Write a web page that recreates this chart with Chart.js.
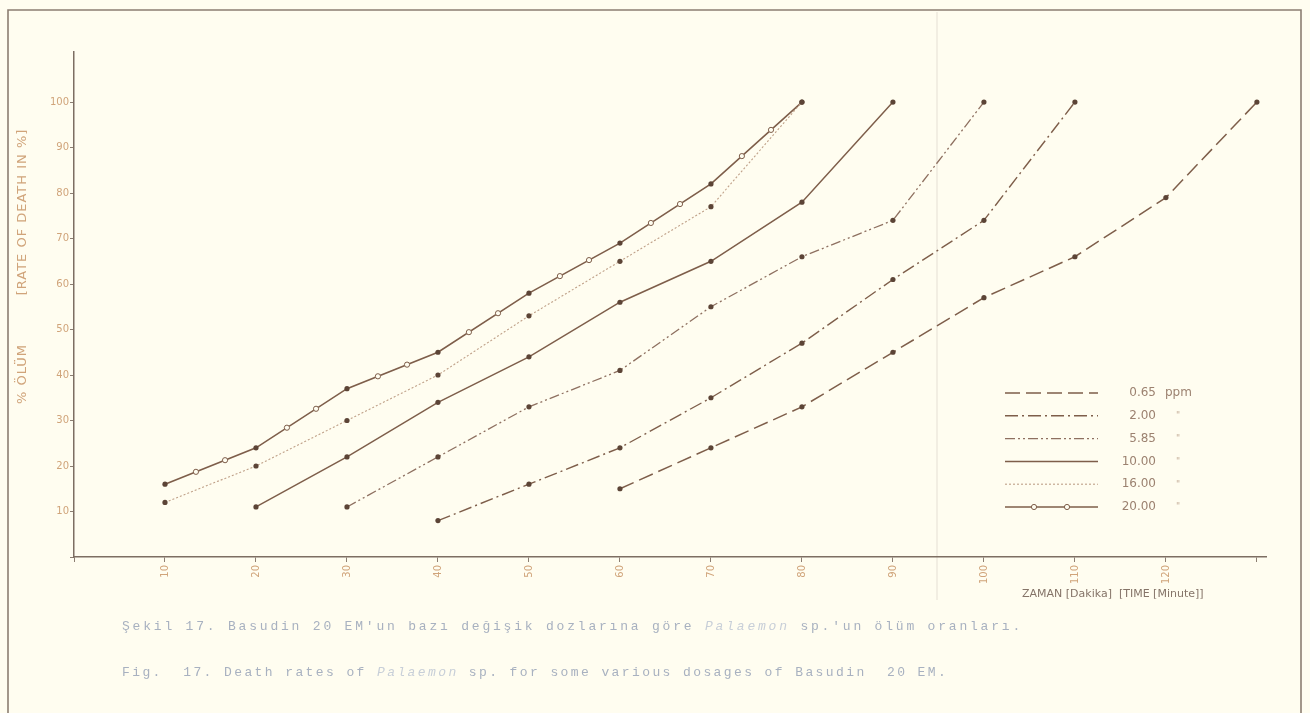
<!DOCTYPE html>
<html>
<head>
<meta charset="utf-8">
<script src="https://cdn.jsdelivr.net/npm/chart.js@4.4.0/dist/chart.umd.min.js"></script>
<style>
  html, body { margin: 0; padding: 0; background: #fffdf0; }
  #wrap { position: relative; width: 1310px; height: 713px; }
</style>
</head>
<body>
<div id="wrap"><canvas id="chart" width="1310" height="713"></canvas></div>
<script>
// ---- data (minutes -> % death) ----
var doseLabels = ['0.65', '2.00', '5.85', '10.00', '16.00', '20.00'];
var doseUnits  = ['ppm', '"', '"', '"', '"', '"'];

var time065  = [60, 70, 80, 90, 100, 110, 120, 130];
var death065 = [15, 24, 33, 45, 57, 66, 79, 100];

var time200  = [40, 50, 60, 70, 80, 90, 100, 110];
var death200 = [8, 16, 24, 35, 47, 61, 74, 100];

var time585  = [30, 40, 50, 60, 70, 80, 90, 100];
var death585 = [11, 22, 33, 41, 55, 66, 74, 100];

var time1000  = [20, 30, 40, 50, 60, 70, 80, 90];
var death1000 = [11, 22, 34, 44, 56, 65, 78, 100];

var time1600  = [10, 20, 30, 40, 50, 60, 70, 80];
var death1600 = [12, 20, 30, 40, 53, 65, 77, 100];

var time2000  = [10, 20, 30, 40, 50, 60, 70, 80];
var death2000 = [16, 24, 37, 45, 58, 69, 82, 100];

var xTicks = [10, 20, 30, 40, 50, 60, 70, 80, 90, 100, 110, 120];
var yTicks = [10, 20, 30, 40, 50, 60, 70, 80, 90, 100];

var INK = '#7e5e4a';
var DOT = '#5c4436';
var PALE = '#d0a47a';

function pts(t, v) { return t.map(function (m, i) { return { x: m, y: v[i] }; }); }

function ds(label, t, v, dash, color, width) {
  return {
    label: label, data: pts(t, v),
    borderColor: color, borderWidth: width, borderDash: dash,
    pointRadius: 2.6, pointBackgroundColor: DOT, pointBorderColor: DOT, pointBorderWidth: 0,
    tension: 0, fill: false
  };
}

// decorations: frame, titles, captions, legend, circle-line style
var decor = {
  id: 'decor',
  beforeDraw: function (chart) {
    var c = chart.ctx;
    c.save();
    c.fillStyle = '#fffdf0';
    c.fillRect(0, 0, chart.width, chart.height);
    c.strokeStyle = '#8c7e72';
    c.lineWidth = 1.6;
    c.beginPath();
    c.moveTo(8, 720); c.lineTo(8, 10); c.lineTo(1301, 10); c.lineTo(1301, 720);
    c.stroke();
    // paper fold
    c.strokeStyle = 'rgba(150,140,130,0.25)';
    c.lineWidth = 1;
    c.beginPath(); c.moveTo(937, 12); c.lineTo(937, 600); c.stroke();
    c.restore();
  },
  afterDatasetsDraw: function (chart) {
    var c = chart.ctx;
    // open circles along the 20.00 ppm line
    var meta = chart.getDatasetMeta(5);
    c.save();
    c.strokeStyle = INK; c.fillStyle = '#fffdf0'; c.lineWidth = 1;
    for (var i = 0; i < meta.data.length - 1; i++) {
      var a = meta.data[i], b = meta.data[i + 1];
      [0.34, 0.66].forEach(function (f) {
        c.beginPath();
        c.arc(a.x + (b.x - a.x) * f, a.y + (b.y - a.y) * f, 2.6, 0, Math.PI * 2);
        c.fill(); c.stroke();
      });
    }
    c.restore();
  },
  afterDraw: function (chart) {
    var c = chart.ctx;
    c.save();
    // y title
    c.fillStyle = PALE;
    c.font = '13px "DejaVu Sans"';
    c.textAlign = 'center'; c.textBaseline = 'middle';
    c.letterSpacing = '1px';
    c.translate(23, 0);
    c.rotate(-Math.PI / 2);
    c.fillText('% ÖLÜM', -374, 0);
    c.fillText('[RATE OF DEATH IN %]', -212, 0);
    c.restore();

    // x title
    c.save();
    c.fillStyle = '#857468';
    c.font = '11px "DejaVu Sans"';
    c.textAlign = 'left'; c.textBaseline = 'middle';
    c.fillText('ZAMAN [Dakika]  [TIME [Minute]]', 1022, 594);
    c.restore();

    // legend
    c.save();
    chart.data.datasets.forEach(function (d, i) {
      var y = 393 + i * 22.8;
      c.strokeStyle = d.borderColor; c.lineWidth = d.borderWidth;
      c.setLineDash(d.borderDash || []);
      c.beginPath(); c.moveTo(1005, y); c.lineTo(1098, y); c.stroke();
      c.setLineDash([]);
      if (i === 5) {
        c.fillStyle = '#fffdf0'; c.lineWidth = 1;
        [1034, 1067].forEach(function (x) {
          c.beginPath(); c.arc(x, y, 2.6, 0, Math.PI * 2); c.fill(); c.stroke();
        });
      }
      c.font = '12px "DejaVu Sans"';
      c.textBaseline = 'middle';
      c.fillStyle = '#9c8270';
      c.textAlign = 'right';
      c.fillText(doseLabels[i], 1156, y);
      c.textAlign = 'left';
      c.font = (i === 0 ? '12px' : '9px') + ' "DejaVu Sans"';
      c.fillStyle = i === 0 ? '#9c8270' : '#c4ad98';
      c.fillText(doseUnits[i], i === 0 ? 1165 : 1176, y);
    });
    c.restore();

    // captions, typewriter style
    function typeLine(parts, x0, y, pitch) {
      var x = x0;
      parts.forEach(function (p) {
        c.font = (p.it ? 'italic ' : '') + '13px "Liberation Mono"';
        c.fillStyle = p.it ? '#c8cfd8' : '#a8b1c0';
        for (var k = 0; k < p.t.length; k++) {
          c.fillText(p.t[k], x, y);
          x += pitch;
        }
      });
    }
    c.save();
    c.textAlign = 'left'; c.textBaseline = 'middle';
    typeLine([{ t: 'Şekil 17. Basudin 20 EM\'un bazı değişik dozlarına göre ' },
              { t: 'Palaemon', it: true },
              { t: ' sp.\'un ölüm oranları.' }], 122, 627, 10.6);
    typeLine([{ t: 'Fig.  17. Death rates of ' },
              { t: 'Palaemon', it: true },
              { t: ' sp. for some various dosages of Basudin  20 EM.' }], 122, 673, 10.2);
    c.restore();
  }
};

new Chart(document.getElementById('chart'), {
  type: 'line',
  data: {
    datasets: [
      ds('0.65 ppm', time065, death065, [15, 6], INK, 1.5),
      ds('2.00', time200, death200, [13, 4, 2, 4], INK, 1.4),
      ds('5.85', time585, death585, [10, 3, 2, 3, 2, 3], '#8e7060', 1.3),
      ds('10.00', time1000, death1000, [], INK, 1.5),
      ds('16.00', time1600, death1600, [2, 2], '#bfa088', 1.1),
      ds('20.00', time2000, death2000, [], INK, 1.6)
    ]
  },
  options: {
    responsive: false,
    animation: false,
    devicePixelRatio: 1,
    layout: { padding: { top: 52, right: 44, left: 0, bottom: 0 } },
    plugins: { legend: { display: false }, tooltip: { enabled: false } },
    scales: {
      x: {
        type: 'linear', min: 0, max: 131,
        afterBuildTicks: function (s) {
          s.ticks = [0].concat(xTicks, [130]).map(function (v) { return { value: v }; });
        },
        afterFit: function (s) { s.height = 156; },
        ticks: {
          autoSkip: false, minRotation: 90, maxRotation: 90, padding: 3,
          color: PALE, font: { family: 'DejaVu Sans', size: 10 },
          callback: function (v) { return xTicks.indexOf(v) >= 0 ? String(v) : ''; }
        },
        grid: { drawOnChartArea: false, color: '#8c7e72', tickLength: 5 },
        border: { color: '#7d6e62', width: 1.5 }
      },
      y: {
        min: 0, max: 111,
        afterBuildTicks: function (s) {
          s.ticks = [0].concat(yTicks).map(function (v) { return { value: v }; });
        },
        afterFit: function (s) { s.width = 74; },
        ticks: {
          padding: 1, color: PALE, font: { family: 'DejaVu Sans', size: 10 },
          callback: function (v) { return yTicks.indexOf(v) >= 0 ? String(v) : ''; }
        },
        grid: { drawOnChartArea: false, color: '#8c7e72', tickLength: 4 },
        border: { color: '#7d6e62', width: 1.5 }
      }
    }
  },
  plugins: [decor]
});
</script>
</body>
</html>
